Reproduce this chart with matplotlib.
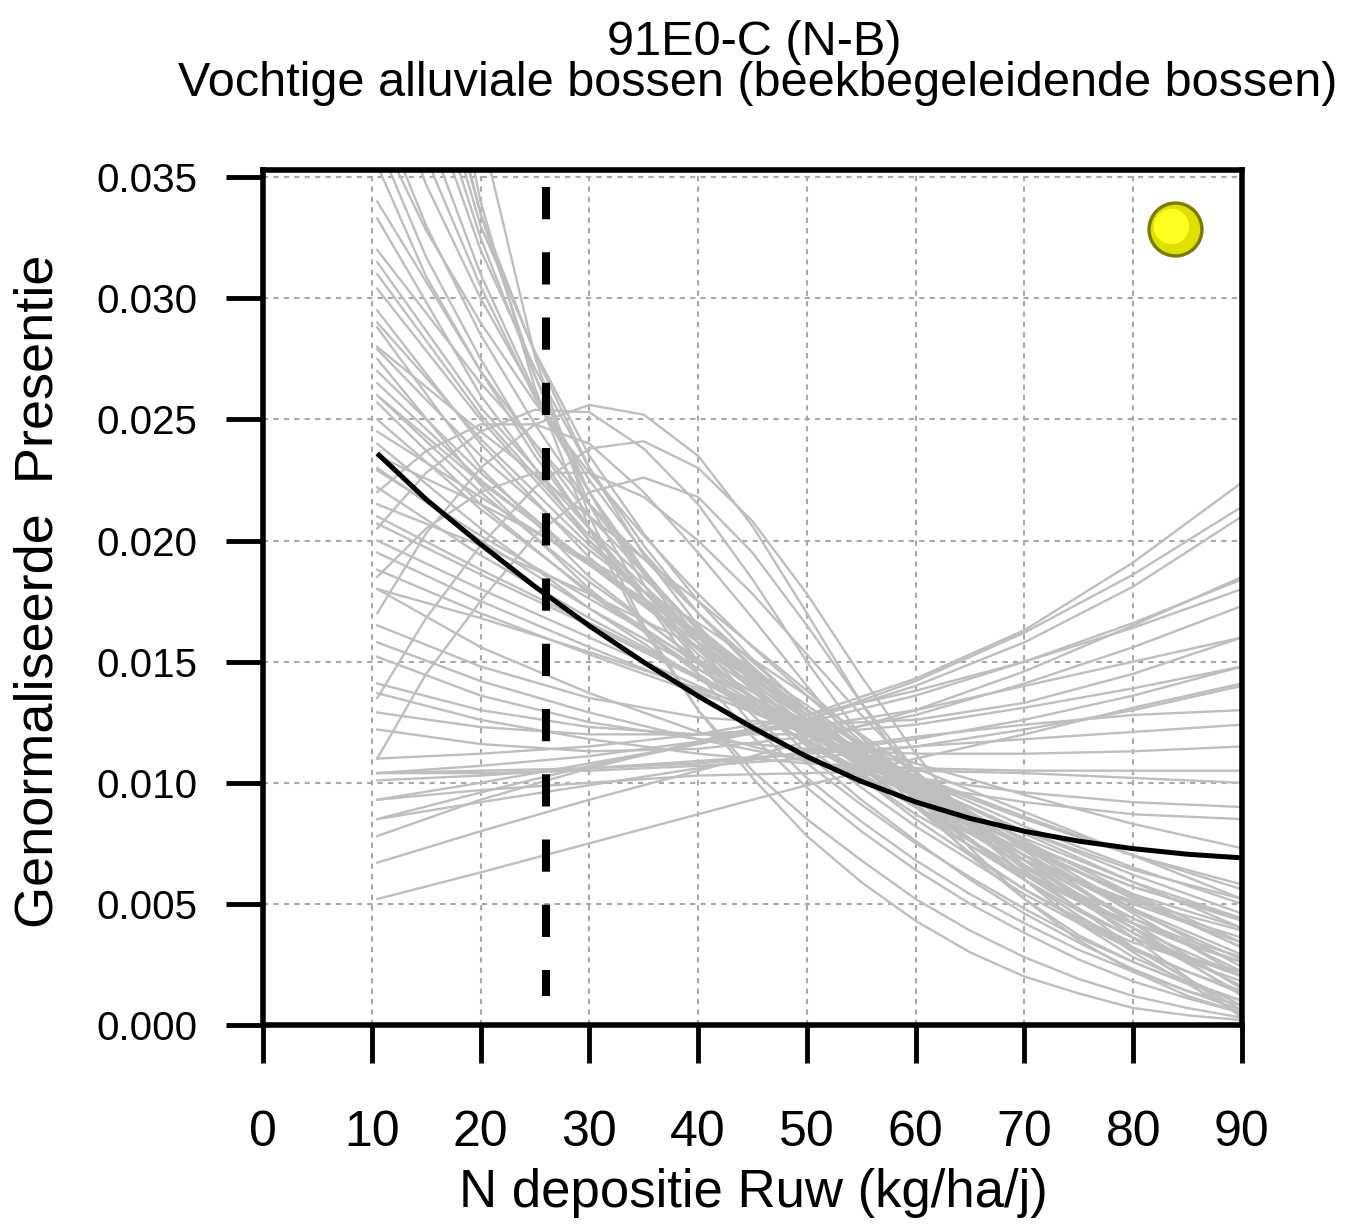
import numpy as np
import matplotlib
matplotlib.use("Agg")
import matplotlib.pyplot as plt

plt.rcParams['font.family'] = ['Liberation Sans', 'DejaVu Sans']

# texts
title_1 = '91E0-C (N-B)'
title_2 = 'Vochtige alluviale bossen (beekbegeleidende bossen)'
x_label = 'N depositie Ruw (kg/ha/j)'
y_label = 'Genormaliseerde  Presentie'

x_ticks = [0, 10, 20, 30, 40, 50, 60, 70, 80, 90]
y_ticks = [0.000, 0.005, 0.010, 0.015, 0.020, 0.025, 0.030, 0.035]

# grey bootstrap curves, y in units of 0.001
# steep and humped curves are read every 5 units, the gentle ones every 10
grey_x_fine = [10.5, 15, 20, 25, 30, 35, 40, 45, 50, 55, 60, 65, 70, 75, 80, 85, 90]
grey_x = [10.5, 20, 30, 40, 50, 60, 70, 80, 90]

grey_steep = [
    [35.5, 30.9, 27.0, 23.5, 20.5, 17.9, 15.5, 13.4, 11.5, 9.8, 8.2, 6.8, 5.4, 4.2, 3.1, 2.2, 1.4],
    [36.5, 31.7, 27.5, 23.8, 20.5, 17.6, 15.0, 12.8, 10.8, 9.1, 7.5, 6.1, 4.8, 3.6, 2.6, 1.7, 1.0],
    [38.0, 33.0, 28.5, 24.8, 21.5, 18.7, 16.3, 14.2, 12.3, 10.6, 9.0, 7.6, 6.3, 5.2, 4.2, 3.3, 2.6],
    [40.0, 34.7, 30.0, 26.0, 22.5, 19.5, 17.0, 14.8, 12.8, 11.0, 9.4, 7.9, 6.6, 5.4, 4.4, 3.5, 2.8],
    [44.0, 37.0, 31.0, 26.1, 22.0, 18.6, 15.8, 13.4, 11.2, 9.3, 7.6, 6.0, 4.6, 3.4, 2.3, 1.4, 0.6],
    [46.0, 38.4, 32.0, 27.1, 23.0, 19.8, 17.0, 14.7, 12.6, 10.7, 9.0, 7.4, 6.0, 4.7, 3.6, 2.6, 1.8],
    [48.0, 39.5, 32.5, 26.8, 22.0, 18.2, 15.0, 12.4, 10.2, 8.4, 6.8, 5.4, 4.2, 3.1, 2.2, 1.4, 0.8],
    [52.0, 41.8, 33.5, 27.7, 23.0, 19.4, 16.5, 14.1, 12.0, 10.2, 8.5, 7.0, 5.6, 4.3, 3.2, 2.2, 1.3],
    [55.0, 42.5, 33.5, 26.8, 21.5, 17.6, 14.5, 11.9, 9.8, 8.0, 6.4, 5.0, 3.8, 2.7, 1.8, 1.1, 0.5],
    [60.0, 45.0, 34.0, 26.3, 20.5, 16.3, 13.0, 10.5, 8.5, 6.8, 5.2, 3.9, 2.8, 1.9, 1.2, 0.7, 0.3],
    [70.0, 51.0, 37.0, 27.6, 21.0, 16.5, 13.0, 10.2, 7.8, 5.9, 4.3, 3.0, 2.0, 1.3, 0.7, 0.4, 0.2],
    [42.0, 35.8, 30.5, 25.9, 22.0, 18.8, 16.0, 13.8, 11.8, 10.2, 8.7, 7.4, 6.2, 5.1, 4.2, 3.4, 2.6],
    [50.0, 40.7, 33.0, 27.8, 23.5, 20.3, 17.5, 15.1, 13.0, 11.1, 9.3, 7.6, 6.0, 4.5, 3.2, 1.9, 0.8],
    [37.0, 32.8, 29.0, 25.7, 22.8, 20.2, 17.8, 15.6, 13.6, 11.7, 10.0, 8.3, 6.8, 5.3, 4.0, 2.7, 1.6],
]

grey_hump = [
    [17.0, 20.3, 23.0, 24.8, 25.6, 25.2, 23.5, 20.6, 17.0, 13.3, 10.0, 7.3, 5.2, 3.5, 2.2, 1.2, 0.5],
    [20.5, 22.8, 24.5, 25.4, 25.3, 23.8, 21.5, 18.4, 15.0, 11.9, 9.2, 7.0, 5.2, 3.7, 2.6, 1.7, 1.0],
    [13.5, 16.8, 19.8, 22.2, 23.8, 24.1, 23.0, 20.8, 17.8, 14.4, 11.2, 8.4, 6.0, 4.2, 2.8, 1.8, 1.0],
    [22.0, 23.7, 24.8, 24.8, 24.0, 22.0, 19.5, 16.8, 14.0, 11.3, 9.0, 7.1, 5.6, 4.4, 3.4, 2.7, 2.2],
    [11.0, 14.5, 17.5, 20.2, 22.0, 22.6, 21.8, 19.5, 16.5, 13.3, 10.5, 8.1, 6.2, 4.8, 3.6, 2.8, 2.2],
    [18.5, 20.5, 22.0, 22.8, 22.8, 21.8, 20.0, 17.8, 15.3, 12.8, 10.5, 8.4, 6.6, 5.1, 3.8, 2.8, 2.0],
]

grey_mid = [
    [30.4, 25.0, 20.0, 15.8, 12.2, 9.0, 6.3, 4.0, 2.0],
    [29.5, 24.0, 19.3, 15.5, 12.3, 9.5, 7.0, 5.0, 3.4],
    [28.8, 23.0, 18.5, 15.0, 12.0, 9.4, 7.2, 5.4, 4.0],
    [27.9, 23.5, 19.6, 16.2, 13.0, 10.0, 7.0, 4.2, 1.5],
    [27.5, 22.3, 18.0, 14.5, 11.6, 9.0, 6.8, 5.0, 3.6],
    [26.5, 22.5, 19.0, 15.8, 12.8, 9.8, 6.8, 4.0, 1.2],
    [25.7, 21.5, 17.8, 14.7, 12.0, 9.6, 7.5, 5.7, 4.3],
    [22.9, 20.2, 17.6, 15.0, 12.5, 10.0, 7.6, 5.4, 3.4],
    [22.2, 19.4, 16.8, 14.4, 12.1, 10.0, 8.0, 6.2, 4.6],
    [20.7, 18.6, 16.5, 14.3, 12.0, 9.7, 7.4, 5.3, 3.2],
    [20.0, 18.0, 16.0, 14.0, 12.0, 10.2, 8.5, 7.0, 5.8],
    [18.8, 17.0, 15.3, 13.7, 12.2, 10.8, 9.5, 8.3, 7.3],
    [18.0, 16.8, 15.4, 13.9, 12.3, 10.6, 8.8, 7.0, 5.2],
    [24.0, 20.5, 17.2, 14.3, 11.7, 9.4, 7.4, 5.7, 4.4],
    [33.3, 26.0, 20.0, 15.3, 11.8, 9.0, 6.8, 5.1, 3.9],
    [31.5, 25.5, 20.5, 16.4, 12.8, 9.5, 6.5, 3.8, 1.3],
    [23.5, 21.5, 19.2, 16.6, 13.6, 10.4, 7.2, 4.2, 1.5],
    [21.5, 19.8, 17.8, 15.6, 13.0, 10.2, 7.3, 4.6, 2.0],
    [26.0, 22.0, 18.3, 15.1, 12.4, 10.0, 8.0, 6.4, 5.2],
    [19.5, 17.5, 15.6, 13.8, 12.0, 10.3, 8.6, 7.0, 5.6],
    [24.5, 21.8, 19.0, 16.2, 13.2, 10.0, 6.8, 3.6, 0.3],
    [32.0, 26.5, 21.5, 17.0, 13.0, 9.4, 6.0, 3.0, 0.4],
    [28.0, 24.5, 21.0, 17.5, 13.8, 10.0, 6.4, 3.2, 0.6],
    [29.0, 24.2, 19.8, 16.0, 12.6, 9.6, 7.0, 4.7, 2.7],
    [27.0, 22.8, 19.0, 15.6, 12.6, 9.9, 7.4, 5.2, 3.2],
    [25.0, 21.3, 17.9, 14.9, 12.2, 9.8, 7.7, 5.9, 4.4],
    [23.0, 20.0, 17.2, 14.7, 12.4, 10.2, 8.2, 6.5, 5.0],
    [31.0, 25.2, 20.2, 16.1, 12.6, 9.6, 7.0, 4.8, 2.9],
    [26.0, 22.4, 19.1, 16.0, 13.0, 10.1, 7.4, 4.8, 2.4],
    [21.0, 18.8, 16.6, 14.4, 12.2, 10.0, 7.9, 5.9, 4.0],
    [34.0, 27.0, 21.0, 16.3, 12.6, 9.5, 6.8, 4.4, 2.2],
]

grey_flat = [
    [7.8, 9.3, 10.6, 11.7, 12.8, 14.3, 16.3, 19.1, 22.4],
    [9.3, 10.0, 10.8, 11.6, 12.6, 14.2, 16.2, 18.6, 21.4],
    [10.4, 10.7, 11.1, 11.7, 12.6, 14.0, 15.8, 18.1, 21.0],
    [6.7, 8.0, 9.3, 10.5, 11.7, 13.0, 14.6, 16.5, 18.5],
    [11.0, 11.2, 11.5, 12.0, 12.8, 13.8, 15.0, 16.4, 18.0],
    [12.9, 12.3, 12.0, 12.0, 12.3, 13.0, 14.0, 15.0, 16.0],
    [14.1, 13.0, 12.3, 12.0, 12.0, 12.4, 13.1, 13.9, 14.8],
    [5.2, 6.3, 7.5, 8.7, 9.9, 11.0, 12.0, 13.1, 14.1],
    [8.5, 9.2, 9.9, 10.6, 11.3, 11.9, 12.4, 12.8, 13.0],
    [10.1, 10.3, 10.6, 10.9, 11.2, 11.5, 11.8, 12.1, 12.4],
    [15.2, 13.6, 12.5, 11.8, 11.4, 11.2, 11.2, 11.3, 11.5],
    [13.7, 12.6, 11.8, 11.2, 10.8, 10.6, 10.5, 10.5, 10.5],
    [9.3, 9.7, 10.0, 10.3, 10.4, 10.5, 10.4, 10.2, 10.0],
    [15.8, 14.2, 12.9, 11.8, 10.9, 10.2, 9.6, 9.2, 9.0],
    [18.0, 15.6, 13.7, 12.1, 10.9, 9.9, 9.2, 8.7, 8.5],
    [10.4, 10.5, 10.6, 10.8, 11.2, 11.8, 12.6, 13.6, 14.8],
    [12.2, 11.6, 11.3, 11.4, 11.9, 12.8, 14.1, 15.6, 17.3],
    [16.5, 14.8, 13.5, 12.7, 12.4, 12.6, 13.3, 14.5, 16.0],
    [10.4, 10.4, 10.5, 10.7, 11.0, 11.5, 12.2, 13.0, 14.0],
    [8.5, 9.6, 10.7, 11.6, 12.5, 13.6, 15.0, 16.6, 18.4],
]

# main fitted curve (y in units of 0.001)
fit_x = [10.5, 15, 20, 25, 30, 35, 40, 45, 50, 55, 60, 65, 70, 75, 80, 85, 90]
fit_y = [23.6, 21.7, 19.85, 18.1, 16.48, 14.98, 13.58, 12.28, 11.08, 10.06, 9.21,
         8.53, 8.0, 7.59, 7.28, 7.05, 6.9]

# dashed reference line and the yellow marker
ref_x = 26
ref_y = [0.0346, 0.0012]
dot_x = 83.8
dot_y = 0.03285

fig = plt.figure(figsize=(13.49, 12.27), dpi=100)
ax = fig.add_axes([263 / 1349, 1 - 1025 / 1227, (1242 - 263) / 1349, (1025 - 170) / 1227])

# grid
for gx in x_ticks[1:-1]:
    ax.axvline(gx, color='#a8a8a8', lw=1.5, ls=(0, (2.5, 2.5)), zorder=0)
for gy in y_ticks[1:]:
    ax.axhline(gy, color='#a8a8a8', lw=1.5, ls=(0, (2.5, 2.5)), zorder=0)

# grey curves
for group in [grey_steep, grey_hump]:
    for row in group:
        ax.plot(grey_x_fine, np.array(row) / 1000, color='#bebebe', lw=1.7, zorder=1)
for group in [grey_mid, grey_flat]:
    for row in group:
        ax.plot(grey_x, np.array(row) / 1000, color='#bebebe', lw=1.7, zorder=1)

ax.plot(fit_x, np.array(fit_y) / 1000, color='black', lw=3.6, zorder=3,
        solid_capstyle='butt')

ax.plot([ref_x, ref_x], ref_y, color='black', lw=5.8, dashes=(4, 4.1), zorder=4)

# yellow ball
ax.scatter([dot_x], [dot_y], s=1560, color='#7a7a00', zorder=5, clip_on=False)
ax.scatter([dot_x], [dot_y], s=1200, color='#e0e000', zorder=6, clip_on=False)
ax.scatter([dot_x - 0.3], [dot_y + 0.00015], s=600, color='#ffff20', zorder=7,
           clip_on=False)

ax.set_xlim(0, 90)
ax.set_ylim(0, 0.0353)
ax.set_xticks(x_ticks)
ax.set_yticks(y_ticks)
ax.set_yticklabels(['%.3f' % v for v in y_ticks])

for sp in ax.spines.values():
    sp.set_linewidth(4)
ax.tick_params(axis='x', length=27, width=3.5, pad=34, labelsize=36)
ax.tick_params(axis='y', length=27, width=3.5, pad=20, labelsize=29)

fig.text(754 / 1349, 1 - 55 / 1227, title_1, ha='center', va='baseline', fontsize=35)
fig.text(758 / 1349, 1 - 96 / 1227, title_2, ha='center', va='baseline', fontsize=35)
fig.text(753 / 1349, 1 - 1207 / 1227, x_label, ha='center', va='baseline', fontsize=38)
fig.text(39 / 1349, 1 - 591 / 1227, y_label, ha='center', va='center',
         rotation=90, fontsize=39)

fig.savefig('out.png', dpi=100)
